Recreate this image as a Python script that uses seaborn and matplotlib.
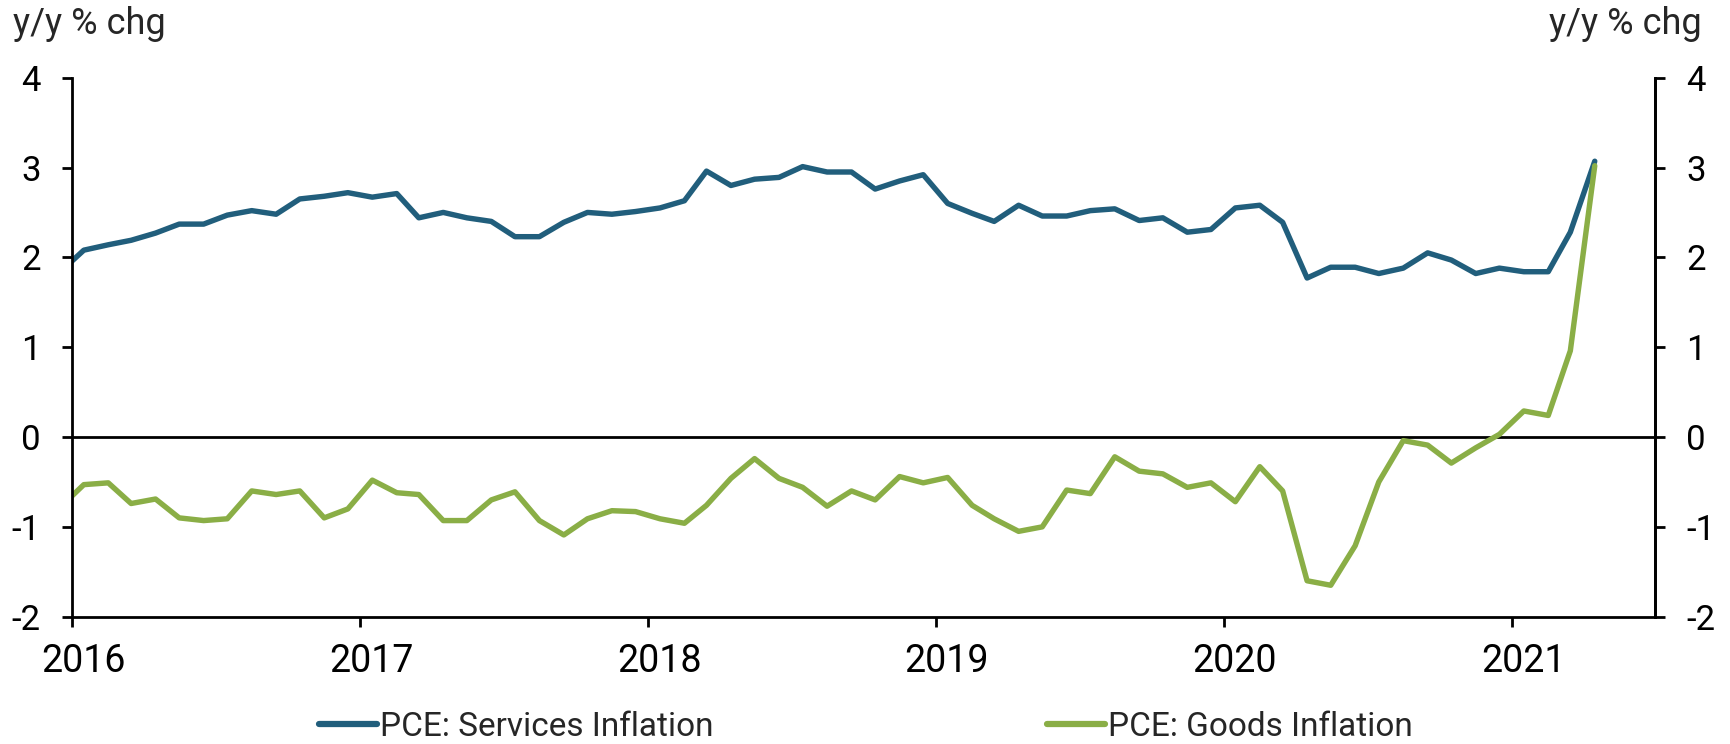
import numpy as np
import pandas as pd
import matplotlib
matplotlib.use("Agg")
import matplotlib.pyplot as plt
import matplotlib.dates as mdates
import seaborn as sns

# ---- data (monthly, Dec 2015 - Apr 2021) ----
start_month = "2015-12-01"
services = [1.83,
            2.08, 2.14, 2.19, 2.27, 2.37, 2.37, 2.47, 2.52, 2.48, 2.65, 2.68, 2.72,
            2.67, 2.71, 2.44, 2.50, 2.44, 2.40, 2.23, 2.23, 2.39, 2.50, 2.48, 2.51,
            2.55, 2.63, 2.96, 2.80, 2.87, 2.89, 3.01, 2.95, 2.95, 2.76, 2.85, 2.92,
            2.60, 2.49, 2.40, 2.58, 2.46, 2.46, 2.52, 2.54, 2.41, 2.44, 2.28, 2.31,
            2.55, 2.58, 2.39, 1.77, 1.89, 1.89, 1.82, 1.88, 2.05, 1.97, 1.82, 1.88,
            1.84, 1.84, 2.28, 3.07]
goods = [-0.79,
         -0.53, -0.51, -0.74, -0.69, -0.90, -0.93, -0.91, -0.60, -0.64, -0.60, -0.90, -0.80,
         -0.48, -0.62, -0.64, -0.93, -0.93, -0.70, -0.61, -0.93, -1.09, -0.91, -0.82, -0.83,
         -0.91, -0.96, -0.76, -0.46, -0.24, -0.46, -0.56, -0.77, -0.60, -0.70, -0.44, -0.51,
         -0.45, -0.76, -0.91, -1.05, -1.00, -0.59, -0.63, -0.22, -0.38, -0.41, -0.56, -0.51,
         -0.72, -0.33, -0.60, -1.60, -1.65, -1.21, -0.50, -0.04, -0.09, -0.29, -0.12, 0.03,
         0.29, 0.24, 0.96, 3.02]
series_names = ["PCE: Services Inflation", "PCE: Goods Inflation"]
y_ticks = [-2, -1, 0, 1, 2, 3, 4]
axis_label = "y/y % chg"

dates = pd.date_range(start_month, periods=len(services), freq="MS") + pd.Timedelta(days=15)
df = pd.concat([
    pd.DataFrame({"date": dates, "value": services, "series": series_names[0]}),
    pd.DataFrame({"date": dates, "value": goods, "series": series_names[1]}),
])

sns.set_theme(style="white")
plt.rcParams["font.family"] = ["Roboto", "DejaVu Sans"]

blue = "#215E7C"
green = "#8AAE46"

fig = plt.figure(figsize=(17.31, 7.44), dpi=100)
ax = fig.add_axes([0.0416, 0.1711, 0.9143, 0.7245])

sns.lineplot(data=df, x="date", y="value", hue="series",
             palette={series_names[0]: blue, series_names[1]: green},
             linewidth=3.9, ax=ax, legend=False)

ax.axhline(0, color="black", lw=2, zorder=1)
ax.set_xlim(pd.Timestamp("2016-01-01"), pd.Timestamp("2021-07-01"))
ax.set_ylim(-2, 4)
ax.set_yticks(y_ticks)
ax.set_yticklabels([str(t) for t in y_ticks])
ax.set_xlabel("")
ax.set_ylabel("")

for s in ["left", "bottom", "right"]:
    ax.spines[s].set_visible(True)
    ax.spines[s].set_color("black")
    ax.spines[s].set_linewidth(2)
ax.spines["top"].set_visible(False)

ax.xaxis.set_major_locator(mdates.YearLocator())
ax.xaxis.set_major_formatter(plt.NullFormatter())
ax.xaxis.set_minor_locator(mdates.MonthLocator(bymonth=1, bymonthday=15))
ax.xaxis.set_minor_formatter(mdates.DateFormatter("%Y"))
ax.tick_params(axis="x", which="major", direction="out", length=7.5, width=2,
               color="black", bottom=True)
ax.tick_params(axis="x", which="minor", length=0, pad=19, labelsize=27,
               labelcolor="black", bottom=True)
ax.tick_params(axis="y", direction="out", length=7.5, width=2, color="black",
               left=True, pad=15, labelsize=25, labelcolor="black")

ax2 = ax.twinx()
ax2.set_ylim(-2, 4)
ax2.set_yticks(y_ticks)
ax2.set_yticklabels([str(t) for t in y_ticks])
ax2.tick_params(axis="y", direction="out", length=7.5, width=2, color="black",
                right=True, pad=15, labelsize=25, labelcolor="black")
for s in ["top", "left", "bottom"]:
    ax2.spines[s].set_visible(False)
ax2.spines["right"].set_color("black")
ax2.spines["right"].set_linewidth(2)
ax2.grid(False)
ax.grid(False)

fig.text(13 / 1731, 1 - 24 / 744, axis_label, ha="left", va="center", fontsize=26)
fig.text(1702 / 1731, 1 - 24 / 744, axis_label, ha="right", va="center", fontsize=26)

handles = [plt.Line2D([0], [0], color=blue, lw=4.5, solid_capstyle="round"),
           plt.Line2D([0], [0], color=green, lw=4.5, solid_capstyle="round")]
fig.legend(handles, series_names, loc="center", bbox_to_anchor=(0.5, 1 - 727 / 744),
           ncol=2, frameon=False, fontsize=24, handlelength=1.75, handletextpad=0.08,
           columnspacing=10.0)

fig.savefig("out.png", dpi=100)
